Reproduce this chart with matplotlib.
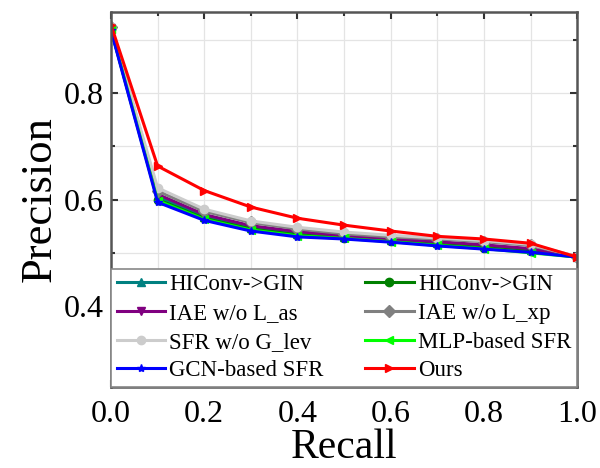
import numpy as np
import matplotlib.pyplot as plt

plt.rcParams['font.family'] = ['Liberation Serif', 'DejaVu Serif']

recall = [0.0, 0.1, 0.2, 0.3, 0.4, 0.5, 0.6, 0.7, 0.8, 0.9, 1.0]

hiconv_teal = [0.920, 0.605, 0.568, 0.547, 0.536, 0.530, 0.524, 0.518, 0.512, 0.505, 0.492]
hiconv_green = [0.920, 0.600, 0.565, 0.545, 0.534, 0.528, 0.522, 0.516, 0.510, 0.503, 0.492]
iae_as = [0.922, 0.610, 0.572, 0.551, 0.540, 0.532, 0.526, 0.521, 0.515, 0.508, 0.492]
iae_xp = [0.924, 0.616, 0.578, 0.557, 0.545, 0.536, 0.530, 0.526, 0.521, 0.514, 0.493]
sfr_lev = [0.924, 0.622, 0.582, 0.560, 0.548, 0.539, 0.533, 0.528, 0.523, 0.516, 0.493]
mlp_sfr = [0.920, 0.598, 0.563, 0.543, 0.532, 0.527, 0.521, 0.514, 0.508, 0.500, 0.492]
gcn_sfr = [0.918, 0.595, 0.561, 0.541, 0.530, 0.526, 0.520, 0.513, 0.507, 0.501, 0.492]
ours = [0.928, 0.663, 0.617, 0.586, 0.565, 0.552, 0.541, 0.531, 0.526, 0.518, 0.492]

# drawn in row order, legend filled column-wise
series = [
    ('HIConv->GIN', hiconv_teal, (0, 0.5, 0.5), '^'),
    ('HIConv->GIN', hiconv_green, (0, 0.5, 0), 'o'),
    ('IAE w/o L_as', iae_as, (0.5, 0, 0.5), 'v'),
    ('IAE w/o L_xp', iae_xp, (0.5, 0.5, 0.5), 'D'),
    ('SFR w/o G_lev', sfr_lev, (0.8, 0.8, 0.8), 'o'),
    ('MLP-based SFR', mlp_sfr, (0, 1, 0), '<'),
    ('GCN-based SFR', gcn_sfr, (0, 0, 1), '*'),
    ('Ours', ours, (1, 0, 0), '>'),
]

fig = plt.figure(figsize=(6, 4.68), dpi=100)
ax = fig.add_axes([0.185, 0.173, 0.777, 0.801])

handles = []
for name, vals, col, mk in series:
    h, = ax.plot(recall, vals, color=col, marker=mk, lw=2.2, ms=6, label=name)
    handles.append(h)

ax.set_xlim(0, 1.0)
ax.set_ylim(0.248, 0.952)
ax.set_xticks([0, 0.2, 0.4, 0.6, 0.8, 1.0])
ax.set_xticks(np.arange(0.1, 1.0, 0.2), minor=True)
ax.set_yticks([0.4, 0.6, 0.8])
ax.set_yticks([0.3, 0.5, 0.7, 0.9], minor=True)
ax.set_xticklabels(['0.0', '0.2', '0.4', '0.6', '0.8', '1.0'])
ax.set_yticklabels(['0.4', '0.6', '0.8'])
ax.grid(True, which='both', color='#e4e4e4', lw=0.9)
ax.tick_params(which='both', direction='in', top=True, right=True,
               labelsize=23, color='#333333', width=1.5)
ax.tick_params(which='major', length=5)
ax.tick_params(axis='x', pad=9)
ax.tick_params(axis='y', pad=5)
ax.tick_params(which='minor', length=3)
for s in ax.spines.values():
    s.set_color('#555555')
    s.set_linewidth(1.8)

ax.set_xlabel('Recall', fontsize=30, labelpad=0)
ax.set_ylabel('Precision', fontsize=32, labelpad=3)

order = [0, 2, 4, 6, 1, 3, 5, 7]
leg = ax.legend([handles[i] for i in order], [series[i][0] for i in order],
                ncol=2, loc='lower left', bbox_to_anchor=(0.0, 0.0, 1.0, 0.3),
                mode='expand', fontsize=16.5, handlelength=2.1, handletextpad=0.2,
                labelspacing=0.33, borderpad=0.25, columnspacing=1.0,
                fancybox=False, framealpha=1, borderaxespad=0.0)
leg.get_frame().set_edgecolor('#888888')
leg.get_frame().set_linewidth(1.2)

fig.savefig('out.png', dpi=100)
